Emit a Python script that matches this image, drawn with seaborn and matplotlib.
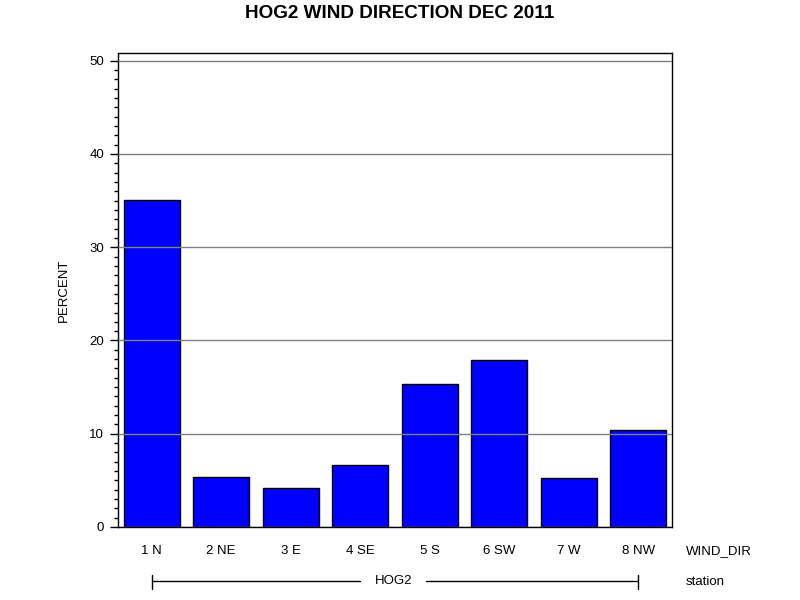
import numpy as np
import pandas as pd
import matplotlib
matplotlib.use("Agg")
import matplotlib.pyplot as plt
import matplotlib.transforms as mtransforms
from matplotlib.ticker import MultipleLocator
import seaborn as sns

# DATA
wind_dir = ["1 N", "2 NE", "3 E", "4 SE", "5 S", "6 SW", "7 W", "8 NW"]
percent = [35.06, 5.36, 4.18, 6.65, 15.37, 17.9, 5.29, 10.4]
station = "HOG2"

df = pd.DataFrame({"WIND_DIR": wind_dir, "PERCENT": percent})

sns.set_theme(style="white")
plt.rcParams["font.family"] = ["Liberation Sans", "DejaVu Sans"]
plt.rcParams["text.color"] = "black"
plt.rcParams["axes.labelcolor"] = "black"
plt.rcParams["xtick.color"] = "black"
plt.rcParams["ytick.color"] = "black"

fig = plt.figure(figsize=(8, 6), dpi=100)
ax = fig.add_axes([0.1475, 0.1217, 0.6925, 0.79])

sns.barplot(data=df, x="WIND_DIR", y="PERCENT", color="#0000ff",
            saturation=1, edgecolor="black", linewidth=1, width=0.81, ax=ax)

ax.set_xlim(-0.485, 7.485)
ax.set_ylim(0, 50.83)
ax.yaxis.set_major_locator(MultipleLocator(10))
ax.yaxis.set_minor_locator(MultipleLocator(1))
ax.grid(axis="y", which="major", color="#808080", linewidth=1)
ax.set_axisbelow(False)
for bar in ax.patches:
    bar.set_zorder(1)
for line in ax.get_ygridlines():
    line.set_zorder(3)

ax.tick_params(axis="y", which="major", length=6, width=1, color="black",
               labelsize=9.5, left=True, pad=4)
ax.tick_params(axis="y", which="minor", length=3, width=1, color="black", left=True)
ax.tick_params(axis="x", length=0, labelsize=9.5, pad=13)

for s in ax.spines.values():
    s.set_color("black")
    s.set_linewidth(1)

ax.set_xlabel("")
ax.set_ylabel("PERCENT", fontsize=9.5, labelpad=14)
fig.text(0.5, 1 - 13 / 600, "HOG2 WIND DIRECTION DEC 2011", fontsize=13.6,
         fontweight="bold", ha="center", va="center")

# group labels on the right and station bracket
ax.text(1.025, -0.05, "WIND_DIR", transform=ax.transAxes, fontsize=9.5,
        va="center", ha="left")
ax.text(1.025, -0.117, "station", transform=ax.transAxes, fontsize=9.5,
        va="center", ha="left")

trans = mtransforms.blended_transform_factory(ax.transData, ax.transAxes)
x0, x1 = 0, len(wind_dir) - 1
xm = (x0 + x1) / 2
ax.plot([x0, xm - 0.5], [-0.115, -0.115], color="black", lw=1,
        transform=trans, clip_on=False)
ax.plot([xm + 0.45, x1], [-0.115, -0.115], color="black", lw=1,
        transform=trans, clip_on=False)
for xe in (x0, x1):
    ax.plot([xe, xe], [-0.101, -0.13], color="black", lw=1,
            transform=trans, clip_on=False)
ax.text(xm - 0.02, -0.115, station, transform=trans, fontsize=9.5,
        ha="center", va="center")

fig.savefig("out.png", dpi=100)
